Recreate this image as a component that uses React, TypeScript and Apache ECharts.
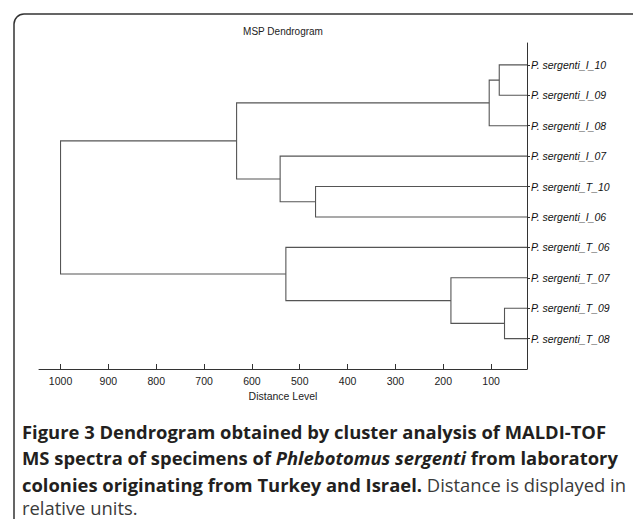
import React, { useEffect, useRef } from "react";
import * as echarts from "echarts";

const leafLabels = [
  "P. sergenti_I_10",
  "P. sergenti_I_09",
  "P. sergenti_I_08",
  "P. sergenti_I_07",
  "P. sergenti_T_10",
  "P. sergenti_I_06",
  "P. sergenti_T_06",
  "P. sergenti_T_07",
  "P. sergenti_T_09",
  "P. sergenti_T_08",
];
const leafHeight = 25;
// merges: child indices (leaves 0..9, new clusters 10+) and merge distance
const mergeLeft = [0, 10, 4, 3, 11, 8, 7, 6, 14];
const mergeRight = [1, 2, 5, 12, 13, 9, 15, 16, 17];
const mergeHeight = [83, 104, 467, 541, 632, 72, 184, 529, 1000];
const xTickValues = [100, 200, 300, 400, 500, 600, 700, 800, 900, 1000];

function buildSegments() {
  const nodeX: number[] = leafLabels.map(() => leafHeight);
  const nodeY: number[] = leafLabels.map((_, i) => i);
  const segs: any[] = [];
  mergeLeft.forEach((a, k) => {
    const b = mergeRight[k];
    const h = mergeHeight[k];
    segs.push({
      coords: [
        [nodeX[a], nodeY[a]],
        [h, nodeY[a]],
        [h, nodeY[b]],
        [nodeX[b], nodeY[b]],
      ],
    });
    nodeX.push(h);
    nodeY.push((nodeY[a] + nodeY[b]) / 2);
  });
  return segs;
}

export default function App() {
  const ref = useRef<HTMLDivElement>(null);
  useEffect(() => {
    if (!ref.current) return;
    const chart = echarts.init(ref.current, null, { renderer: "svg" });
    const leafIdx = leafLabels.map((_, i) => i);
    const capFont = '"Open Sans", "Noto Sans", sans-serif';
    const capSize = 18.4;
    const rich = {
      b: { fontFamily: capFont, fontSize: capSize, fontWeight: "bold", fill: "#231f20", color: "#231f20" },
      bi: { fontFamily: capFont, fontSize: capSize, fontWeight: "bold", fontStyle: "italic", fill: "#231f20", color: "#231f20" },
      n: { fontFamily: capFont, fontSize: capSize, fontWeight: "normal", fill: "#3a3a3a", color: "#3a3a3a" },
    };
    const captionLines = [
      "{b|Figure 3 Dendrogram obtained by cluster analysis of MALDI-TOF}",
      "{b|MS spectra of specimens of }{bi|Phlebotomus sergenti}{b| from laboratory}",
      "{b|colonies originating from Turkey and Israel.}{n| Distance is displayed in}",
      "{n|relative units.}",
    ];
    const captionY = [431, 457.5, 484, 507.5];
    const axisFont = "Arial, 'Liberation Sans', sans-serif";
    chart.setOption({
      animation: false,
      grid: { left: 39, top: 43, width: 488, height: 326 },
      xAxis: {
        type: "value",
        inverse: true,
        min: 25,
        max: 1045,
        position: "bottom",
        splitLine: { show: false },
        axisLine: { show: true, onZero: false, lineStyle: { color: "#333", width: 1 } },
        axisTick: { show: true, inside: true, length: 5, customValues: xTickValues, lineStyle: { color: "#333" } },
        axisLabel: {
          customValues: xTickValues,
          formatter: (v: number) => String(v),
          fontFamily: axisFont,
          fontSize: 10.5,
          color: "#222",
          margin: 6,
        },
        name: "Distance Level",
        nameLocation: "middle",
        nameGap: 17,
        nameTextStyle: { fontFamily: axisFont, fontSize: 10.5, color: "#222" },
      },
      yAxis: {
        type: "value",
        inverse: true,
        min: -0.72,
        max: 10,
        position: "right",
        splitLine: { show: false },
        axisLine: { show: true, onZero: false, lineStyle: { color: "#333", width: 1 } },
        axisTick: { show: true, inside: false, length: 3, customValues: leafIdx, lineStyle: { color: "#333" } },
        axisLabel: {
          customValues: leafIdx,
          formatter: (v: number) => leafLabels[Math.round(v)] ?? "",
          fontFamily: axisFont,
          fontStyle: "italic",
          fontSize: 10.5,
          color: "#111",
          margin: 4,
        },
      },
      graphic: [
        {
          type: "rect",
          shape: { x: 14, y: 14, width: 640, height: 540, r: 10 },
          style: { fill: "none", stroke: "#333", lineWidth: 1.5 },
          silent: true,
        },
        {
          type: "text",
          x: 283,
          y: 31,
          style: {
            text: "MSP Dendrogram",
            fontFamily: axisFont,
            fontSize: 10,
            fill: "#222",
            textAlign: "center",
            textVerticalAlign: "middle",
          },
        },
        ...captionLines.map((t, i) => ({
          type: "text",
          x: 22,
          y: captionY[i],
          style: {
            text: t,
            rich,
            fontFamily: capFont,
            fontSize: capSize,
            fill: "#231f20",
            textAlign: "left",
            textVerticalAlign: "middle",
          },
        })),
      ],
      series: [
        {
          type: "lines",
          coordinateSystem: "cartesian2d",
          polyline: true,
          silent: true,
          data: buildSegments(),
          lineStyle: { color: "#555", width: 1.1, opacity: 1 },
        },
      ],
    });
    return () => chart.dispose();
  }, []);
  return (
    <div
      ref={ref}
      style={{ position: "fixed", left: 0, top: 0, width: 633, height: 519, background: "#fff" }}
    />
  );
}
